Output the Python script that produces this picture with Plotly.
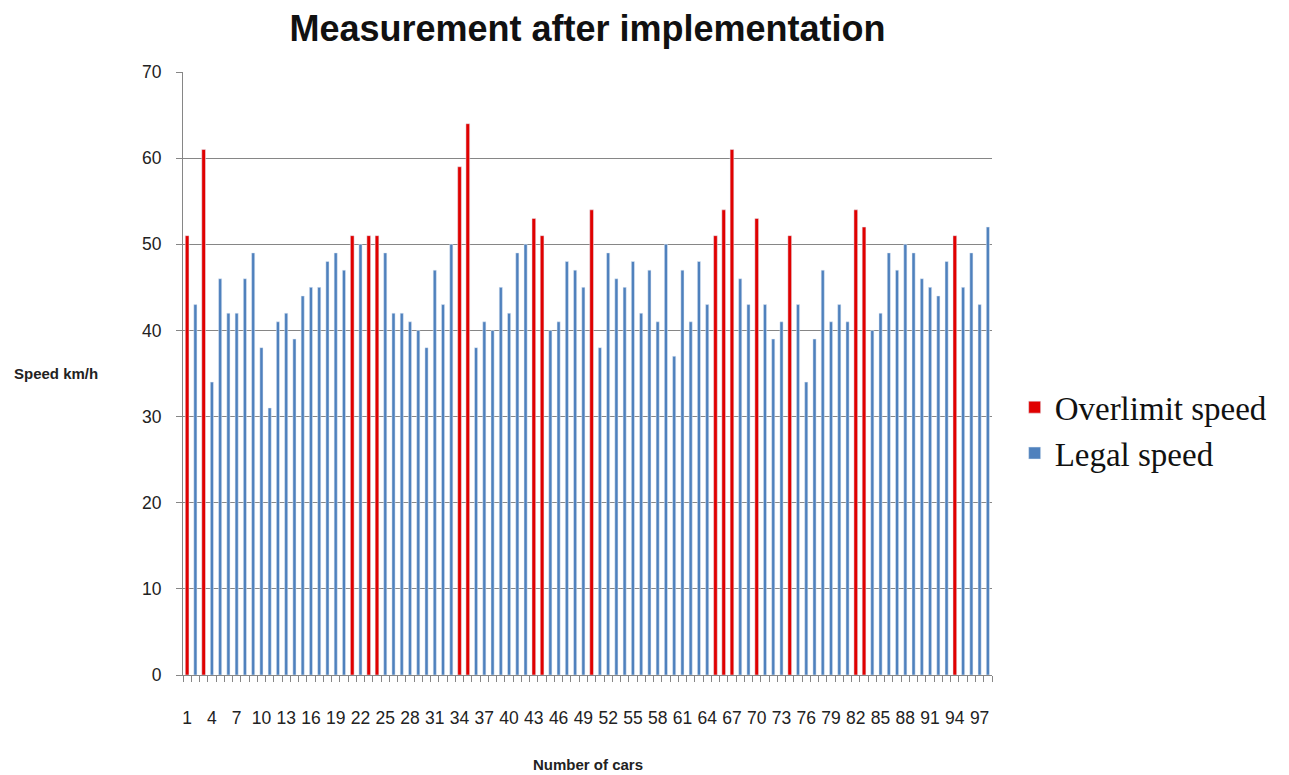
import plotly.graph_objects as go

cars = list(range(1, 99))
speeds = [51, 43, 61, 34, 46, 42, 42, 46, 49, 38,
          31, 41, 42, 39, 44, 45, 45, 48, 49, 47,
          51, 50, 51, 51, 49, 42, 42, 41, 40, 38,
          47, 43, 50, 59, 64, 38, 41, 40, 45, 42,
          49, 50, 53, 51, 40, 41, 48, 47, 45, 54,
          38, 49, 46, 45, 48, 42, 47, 41, 50, 37,
          47, 41, 48, 43, 51, 54, 61, 46, 43, 53,
          43, 39, 41, 51, 43, 34, 39, 47, 41, 43,
          41, 54, 52, 40, 42, 49, 47, 50, 49, 46,
          45, 44, 48, 51, 45, 49, 43, 52]
overlimit_cars = [1, 3, 21, 23, 24, 34, 35, 43, 44, 50, 65, 66, 67, 70, 74, 82, 83, 94]
x_tick_labels = list(range(1, 99, 3))
y_ticks = list(range(0, 71, 10))

over_x = [c for c in cars if c in overlimit_cars]
over_y = [speeds[c - 1] for c in over_x]
legal_x = [c for c in cars if c not in overlimit_cars]
legal_y = [speeds[c - 1] for c in legal_x]

fig = go.Figure()
fig.add_trace(go.Bar(x=over_x, y=over_y, name="Overlimit speed", marker_color="#E00000",
                     width=0.45, legendgroup="a"))
fig.add_trace(go.Bar(x=legal_x, y=legal_y, name="Legal speed", marker_color="#4F81BD",
                     width=0.38, legendgroup="b"))

fig.update_layout(
    width=1289, height=775,
    margin=dict(l=175, r=305, t=64, b=108),
    paper_bgcolor="white", plot_bgcolor="white",
    barmode="overlay",
    font=dict(family="Liberation Sans", size=15, color="#222222"),
    title=dict(text="<b>Measurement after implementation</b>", xref="paper", x=0.5, xanchor="center",
               y=0.974, yanchor="middle", font=dict(family="Liberation Sans", size=36, color="#111111")),
    legend=dict(x=1.028, xanchor="left", y=0.406, yanchor="middle",
                font=dict(family="Liberation Serif", size=33, color="#111111"),
                traceorder="grouped", tracegroupgap=0, bgcolor="rgba(0,0,0,0)"),
    xaxis=dict(range=[0.5, 98.5], tickmode="array", tickvals=x_tick_labels,
               ticktext=[str(v) for v in x_tick_labels], ticks="", tickangle=0,
               ticklabelstandoff=27,
               showline=True, linecolor="#868686", linewidth=1, showgrid=False, zeroline=False,
               tickfont=dict(size=17.5, color="#222222"),
               minor=dict(tickmode="array", tickvals=[c - 0.5 for c in cars] + [98.5],
                          ticks="outside", ticklen=6, tickcolor="#868686", showgrid=False)),
    yaxis=dict(range=[0, 70], tickmode="array", tickvals=y_ticks, ticks="outside", ticklen=6,
               ticklabelstandoff=11,
               tickcolor="#868686", showline=True, linecolor="#868686", linewidth=1,
               showgrid=True, gridcolor="#868686", gridwidth=1, zeroline=False,
               tickfont=dict(size=17.5, color="#222222")),
    annotations=[
        dict(text="<b>Speed km/h</b>", xref="paper", yref="paper", x=-0.211, y=0.50,
             xanchor="left", yanchor="middle", showarrow=False,
             font=dict(family="Liberation Sans", size=15, color="#222222")),
        dict(text="<b>Number of cars</b>", xref="paper", yref="paper", x=0.5, y=-0.149,
             xanchor="center", yanchor="middle", showarrow=False,
             font=dict(family="Liberation Sans", size=15, color="#222222")),
    ],
)

fig.write_html("out.html")
